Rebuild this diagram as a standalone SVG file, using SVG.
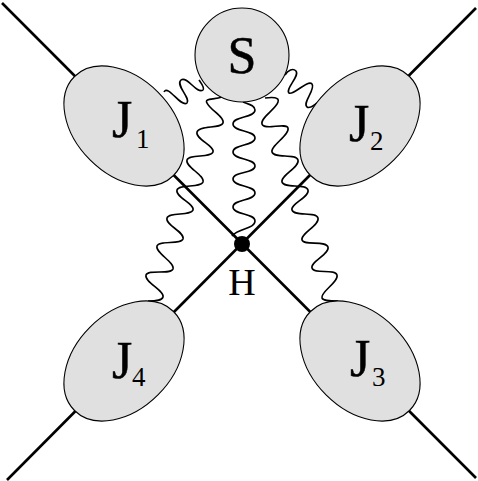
<svg xmlns="http://www.w3.org/2000/svg" width="478" height="481" viewBox="0 0 478 481">
<style>
.leg{fill:none;stroke:#000;stroke-width:2.6}
.wave{fill:none;stroke:#000;stroke-width:1.6}
.blob{fill:#e0e0e0;stroke:#000;stroke-width:1.1}
text{font-family:"Liberation Serif","Times New Roman",serif;fill:#000}
.big{font-size:52px;stroke:#000;stroke-width:.5}
.sub{font-size:27px}
</style>
<rect width="478" height="481" fill="#fff"/>
<g id="connectors">
<path class="leg" d="M2,3L476,478"/>
<path class="leg" d="M476,8L7,480"/>
<path class="wave" d="M164,92C168,84 181,108 187,103C191,98 175,85 181,80C187,75 197,95 203,90C205,88 201,83 199,80"/>
<path class="wave" d="M222,97C214,100 204,98 207,103C210,110 225,117 223,123C221,129 199,125 197,132C195,139 215,146 213,152C211,158 189,154 187,160C185,167 205,175 203,182C201,188 179,184 177,190C175,197 195,204 193,210C191,216 169,212 167,218C165,225 185,232 183,239C181,245 159,240 157,246C155,253 175,262 173,269C171,275 148,269 146,275C144,282 165,291 163,297C162,301 155,301 148,301"/>
<path class="wave" d="M243,102C248,104 255,105 255,110C255,118 233,116 233,124C233,132 255,130 255,138C255,146 233,144 233,152C233,160 255,158 255,166C255,174 233,171 233,179C233,187 255,185 255,193C255,201 233,199 233,207C233,215 255,213 255,221C255,229 238,228 232,236"/>
<path class="wave" d="M265,98C272,97 280,97 278,102C276,109 260,118 262,124C264,131 286,122 288,128C290,135 270,146 272,152C274,159 296,153 298,160C300,167 280,176 282,182C284,189 306,183 308,190C310,197 290,204 292,210C294,217 316,211 318,218C320,225 300,234 302,240C304,246 326,240 328,247C330,254 310,262 312,268C314,275 335,268 337,275C339,282 320,292 322,298C323,301 330,301 338,301"/>
<path class="wave" d="M285,75C288,70 293,68 296,71C300,76 285,89 289,93C293,96 308,79 312,84C316,89 302,103 307,107C310,109 314,105 317,103"/>
</g>
<g id="J1"><ellipse class="blob" cx="124" cy="126" rx="70" ry="48" transform="rotate(45 124 126)"/><text class="big" x="112" y="137">J</text><text class="sub" x="136" y="148">1</text></g>
<g id="J2"><ellipse class="blob" cx="360" cy="126" rx="70" ry="48" transform="rotate(-45 360 126)"/><text class="big" x="349" y="141">J</text><text class="sub" x="370" y="150">2</text></g>
<g id="J3"><ellipse class="blob" cx="360" cy="361" rx="70" ry="48" transform="rotate(45 360 361)"/><text class="big" x="350" y="376">J</text><text class="sub" x="372" y="386">3</text></g>
<g id="J4"><ellipse class="blob" cx="124" cy="361" rx="70" ry="48" transform="rotate(-45 124 361)"/><text class="big" x="112" y="378">J</text><text class="sub" x="132" y="386">4</text></g>
<g id="S"><circle class="blob" cx="242" cy="55" r="47"/><text class="big" x="242" y="73" text-anchor="middle">S</text></g>
<g id="H"><circle cx="242" cy="244" r="8" fill="#000"/><text x="242" y="295" text-anchor="middle" font-size="38">H</text></g>
</svg>
